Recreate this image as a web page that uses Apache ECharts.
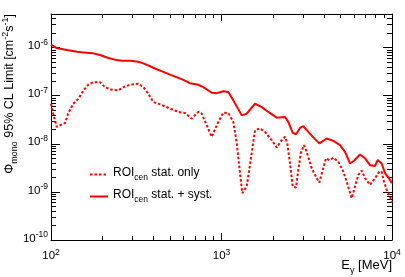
<!DOCTYPE html>
<html><head><meta charset="utf-8">
<script src="https://cdn.jsdelivr.net/npm/echarts@6/dist/echarts.min.js"></script>
<style>html,body{margin:0;padding:0;background:#fff}#c{width:405px;height:277px}</style>
</head><body><div id="c"></div><script>
// Energies in MeV, flux limits in cm^-2 s^-1
const statSystE = [100, 108, 124, 142, 155, 177, 194, 217, 243, 260, 291, 325, 348, 381, 417, 456, 499, 534, 597, 653, 731, 782, 876, 937, 1025, 1096, 1173, 1314, 1405, 1572, 1721, 1882, 2108, 2357, 2465, 2616, 2735, 2887, 3019, 3229, 3454, 3747, 4140, 4525, 4955, 5301, 5672, 5986, 6491, 6943, 7430, 7949, 8245, 8700, 9100, 9735, 10000];
const statSystPhi = [1.15e-6, 9.8e-7, 8.9e-7, 8.2e-7, 7.96e-7, 7.6e-7, 7.0e-7, 6.1e-7, 5.5e-7, 5.36e-7, 5.36e-7, 5.1e-7, 4.7e-7, 4.1e-7, 3.55e-7, 3.13e-7, 2.75e-7, 2.5e-7, 2.14e-7, 1.82e-7, 1.69e-7, 1.51e-7, 1.15e-7, 1.13e-7, 1.24e-7, 1.19e-7, 8.0e-8, 3.9e-8, 4.25e-8, 6.8e-8, 5.8e-8, 4.6e-8, 3.5e-8, 3.6e-8, 2.85e-8, 1.69e-8, 1.58e-8, 2.14e-8, 2.32e-8, 1.77e-8, 1.36e-8, 1.02e-8, 1.29e-8, 1.15e-8, 9.4e-9, 6.8e-9, 3.9e-9, 4.45e-9, 6.0e-9, 5.0e-9, 3.6e-9, 3.46e-9, 4.6e-9, 3.9e-9, 2.45e-9, 1.78e-9, 1.52e-9];
const statOnlyE = [100, 103, 108, 113, 121, 126, 135, 145, 155, 166, 177, 194, 207, 227, 248, 266, 291, 325, 348, 372, 398, 436, 466, 499, 510, 558, 611, 668, 731, 765, 819, 876, 958, 1025, 1096, 1173, 1229, 1284, 1324, 1405, 1503, 1572, 1682, 1799, 1970, 2108, 2254, 2357, 2432, 2522, 2616, 2735, 2821, 2914, 3047, 3160, 3381, 3617, 3747, 3923, 4102, 4290, 4525, 4842, 5181, 5420, 5802, 6067, 6344, 6643, 6943, 7430, 7949, 8425, 8700, 8975, 9311, 9735, 10000];
const statOnlyPhi = [6.8e-8, 4.25e-8, 2.25e-8, 2.43e-8, 2.72e-8, 4.25e-8, 6.8e-8, 8.7e-8, 1.29e-7, 1.71e-7, 1.91e-7, 1.91e-7, 1.51e-7, 1.33e-7, 1.29e-7, 1.51e-7, 1.69e-7, 1.77e-7, 1.51e-7, 1.1e-7, 7.4e-8, 6.6e-8, 6.0e-8, 5.4e-8, 5.1e-8, 4.6e-8, 4.37e-8, 3.35e-8, 4.6e-8, 4.25e-8, 2.43e-8, 1.4e-8, 2.85e-8, 4.45e-8, 4.37e-8, 2.85e-8, 1.02e-8, 2.45e-9, 9.4e-10, 1.29e-9, 6.3e-9, 1.92e-8, 2.08e-8, 1.77e-8, 1.19e-8, 8.4e-9, 1.19e-8, 1.4e-8, 1.02e-8, 3.9e-9, 1.29e-9, 1.23e-9, 2.86e-9, 6.3e-9, 9.4e-9, 6.8e-9, 3.1e-9, 1.93e-9, 1.56e-9, 2.86e-9, 5.0e-9, 4.6e-9, 5.14e-9, 4.25e-9, 2.64e-9, 1.64e-9, 7.4e-10, 1.29e-9, 2.25e-9, 2.77e-9, 1.93e-9, 1.4e-9, 1.93e-9, 2.64e-9, 2.64e-9, 1.64e-9, 1.1e-9, 8.0e-10, 6.0e-10];
const seriesNames = ['stat. only', 'stat. + syst.'];
const xMajorTicks = [100, 1000, 10000];
const xMinorTicks = [200, 300, 400, 500, 600, 700, 800, 900, 2000, 3000, 4000, 5000, 6000, 7000, 8000, 9000];
const yMajorTicks = [1e-10, 1e-9, 1e-8, 1e-7, 1e-6];
const yMinorTicks = [2e-10, 3e-10, 4e-10, 5e-10, 6e-10, 7e-10, 8e-10, 9e-10, 2e-9, 3e-9, 4e-9, 5e-9, 6e-9, 7e-9, 8e-9, 9e-9, 2e-8, 3e-8, 4e-8, 5e-8, 6e-8, 7e-8, 8e-8, 9e-8, 2e-7, 3e-7, 4e-7, 5e-7, 6e-7, 7e-7, 8e-7, 9e-7, 2e-6, 3e-6, 4e-6];

const FONT = '"Liberation Sans", Arial, Helvetica, sans-serif';
function pairs(xs, ys) { return xs.map((x, i) => [x, ys[i]]); }
function powLabel(v) { return '{b|10}{s|' + Math.round(Math.log10(v)) + '}'; }
const labelRich = {
  b: { fontSize: 11.5, fontFamily: FONT, color: '#000', verticalAlign: 'bottom' },
  s: { fontSize: 8.5, fontFamily: FONT, color: '#000', verticalAlign: 'bottom', padding: [0, 0, 5, 0] }
};
function mkAxis(kind, pos, ticks, len, line, labels) {
  const isX = kind === 'x';
  const a = {
    type: 'log', logBase: 10,
    min: isX ? 100 : 1e-10, max: isX ? 10000 : 5e-6,
    position: pos,
    axisLine: { show: line, onZero: false, lineStyle: { color: '#000', width: 1 } },
    axisTick: { show: true, inside: true, length: len, customValues: ticks, lineStyle: { color: '#000', width: 1 } },
    axisLabel: { show: false },
    splitLine: { show: false },
    minorTick: { show: false }
  };
  if (labels) {
    a.axisLabel = {
      show: true, customValues: ticks, formatter: powLabel, rich: labelRich,
      margin: isX ? 8 : 3,
      padding: isX ? 0 : [0, 0, 5, 0]
    };
  }
  return a;
}

const chart = echarts.init(document.getElementById('c'), null, { renderer: 'canvas' });
chart.setOption({
  animation: false,
  backgroundColor: '#fff',
  grid: { left: 51, right: 13, top: 14, bottom: 37 },
  xAxis: [
    mkAxis('x', 'bottom', xMajorTicks, 7, true, true),
    mkAxis('x', 'bottom', xMinorTicks, 4, false, false),
    mkAxis('x', 'top', xMajorTicks, 7, true, false),
    mkAxis('x', 'top', xMinorTicks, 4, false, false)
  ],
  yAxis: [
    mkAxis('y', 'left', yMajorTicks, 9, true, true),
    mkAxis('y', 'left', yMinorTicks, 5, false, false),
    mkAxis('y', 'right', yMajorTicks, 9, true, false),
    mkAxis('y', 'right', yMinorTicks, 5, false, false)
  ],
  legend: {
    left: 84, top: 162, orient: 'vertical', itemWidth: 18, itemHeight: 10, itemGap: 7,
    selectedMode: false, data: seriesNames,
    itemStyle: { opacity: 0, borderWidth: 0 },
    formatter: n => '{b|ROI}{sub|cen}{b| ' + n + '}',
    textStyle: {
      fontFamily: FONT, fontSize: 12, color: '#000',
      rich: {
        b: { fontSize: 12, fontFamily: FONT, color: '#000', padding: [0, 0, 3, 0], verticalAlign: 'bottom' },
        sub: { fontSize: 8.5, fontFamily: FONT, color: '#000', verticalAlign: 'bottom' }
      }
    }
  },
  graphic: [
    {
      type: 'text', right: 13, top: 259,
      style: {
        text: '{b|E}{sub|γ}{b| [MeV]}', fill: '#000',
        rich: {
          b: { fontSize: 13, fontFamily: FONT, fill: '#000', padding: [0, 0, 3, 0], verticalAlign: 'bottom' },
          sub: { fontSize: 9, fontFamily: FONT, fill: '#000', verticalAlign: 'bottom' }
        }
      }
    },
    {
      type: 'text', x: 10, y: 14, rotation: Math.PI / 2,
      style: {
        text: '{b|Φ}{sub|mono}{b| 95% CL Limit [cm}{sup|-2}{b|s}{sup|-1}{b|]}',
        align: 'right', verticalAlign: 'middle', fill: '#000',
        rich: {
          b: { fontSize: 12.5, fontFamily: FONT, fill: '#000', padding: [0, 0, 3, 0], verticalAlign: 'bottom' },
          sub: { fontSize: 9, fontFamily: FONT, fill: '#000', verticalAlign: 'bottom' },
          sup: { fontSize: 9, fontFamily: FONT, fill: '#000', padding: [0, 0, 9, 0], verticalAlign: 'bottom' }
        }
      }
    }
  ],
  series: [
    {
      name: seriesNames[0], type: 'line', xAxisIndex: 0, yAxisIndex: 0,
      data: pairs(statOnlyE, statOnlyPhi), symbol: 'none', showSymbol: false,
      lineStyle: { color: '#ff0000', width: 2, type: [2.5, 2] }, itemStyle: { color: '#ff0000' }
    },
    {
      name: seriesNames[1], type: 'line', xAxisIndex: 0, yAxisIndex: 0,
      data: pairs(statSystE, statSystPhi), symbol: 'none', showSymbol: false,
      lineStyle: { color: '#ff0000', width: 2, type: 'solid' }, itemStyle: { color: '#ff0000' }
    }
  ]
});
</script></body></html>
